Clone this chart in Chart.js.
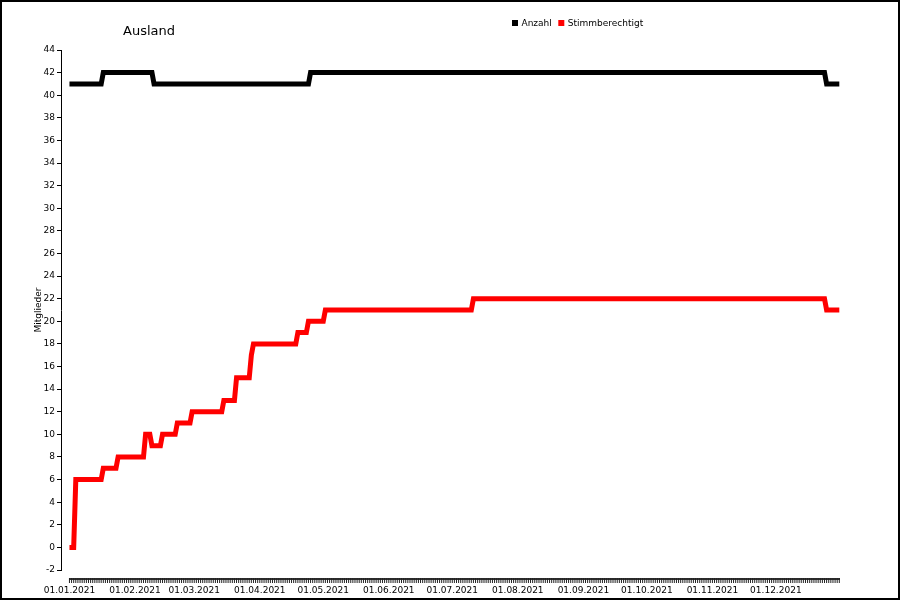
<!DOCTYPE html>
<html>
<head>
<meta charset="utf-8">
<script src="https://cdn.jsdelivr.net/npm/chart.js@4.4.1/dist/chart.umd.min.js"></script>
<style>
  html, body { margin: 0; padding: 0; background: #fff; }
  canvas { display: block; }
</style>
</head>
<body>
<canvas id="c" width="900" height="600"></canvas>
<script>
// ---- data (day index from 01.01.2021) ----
const chartTitle = "Ausland";
const seriesNames = ["Anzahl", "Stimmberechtigt"];
const anzahlDays   = [0, 15, 16, 39, 40, 113, 114, 357, 358, 364];
const anzahlValues = [41, 41, 42, 42, 41, 41, 42, 42, 41, 41];
const stimmDays   = [0, 2, 3, 15, 16, 22, 23, 35, 36, 38, 39, 43, 44, 50, 51, 57, 58, 72, 73, 78, 79, 85, 86, 87, 107, 108, 112, 113, 120, 121, 190, 191, 357, 358, 364];
const stimmValues = [0, 0, 6, 6, 7, 7, 8, 8, 10, 10, 9, 9, 10, 10, 11, 11, 12, 12, 13, 13, 15, 15, 17, 18, 18, 19, 19, 20, 20, 21, 21, 22, 22, 21, 21];
const monthStartDays = [0, 31, 59, 90, 120, 151, 181, 212, 243, 273, 304, 334];
const monthLabels = ["01.01.2021", "01.02.2021", "01.03.2021", "01.04.2021", "01.05.2021", "01.06.2021",
                     "01.07.2021", "01.08.2021", "01.09.2021", "01.10.2021", "01.11.2021", "01.12.2021"];
const yTitle = "Mitglieder";
const lastDay = 364;

Chart.defaults.font.family = "'DejaVu Sans', Verdana, sans-serif";
Chart.defaults.font.size = 9;
Chart.defaults.color = "#000";

const toPts = (xs, ys) => xs.map((d, i) => ({ x: d, y: ys[i] }));

const frameAndDecor = {
  id: 'frameAndDecor',
  beforeDraw(chart) {
    const ctx = chart.ctx;
    ctx.save();
    ctx.fillStyle = '#fff';
    ctx.fillRect(0, 0, chart.width, chart.height);
    ctx.restore();
  },
  afterDraw(chart) {
    const ctx = chart.ctx;
    const xs = chart.scales.x;
    ctx.save();
    // dense daily tick row
    ctx.strokeStyle = '#222';
    const x0 = xs.getPixelForValue(0);
    const x1 = xs.getPixelForValue(lastDay);
    ctx.fillStyle = '#333';
    ctx.fillRect(Math.round(x0), 578, Math.round(x1) - Math.round(x0) + 1, 2);
    ctx.lineWidth = 1;
    ctx.beginPath();
    for (let d = 0; d <= lastDay; d++) {
      const px = xs.getPixelForValue(d);
      ctx.moveTo(px, 578);
      ctx.lineTo(px, 583);
    }
    ctx.stroke();

    // title
    ctx.fillStyle = '#000';
    ctx.font = "13px 'DejaVu Sans', Verdana, sans-serif";
    ctx.textBaseline = 'alphabetic';
    ctx.textAlign = 'left';
    ctx.fillText(chartTitle, 123, 35);

    // legend
    ctx.font = "9px 'DejaVu Sans', Verdana, sans-serif";
    let lx = 512;
    chart.data.datasets.forEach(ds => {
      ctx.fillStyle = ds.borderColor;
      ctx.fillRect(lx, 20, 6, 6);
      lx += 6 + 3.5;
      ctx.fillStyle = '#000';
      ctx.fillText(ds.label, lx, 25.5);
      lx += ctx.measureText(ds.label).width + 6.5;
    });

    // outer frame
    ctx.strokeStyle = '#000';
    ctx.lineWidth = 2;
    ctx.strokeRect(1, 1, 898, 598);
    ctx.restore();
  }
};

new Chart(document.getElementById('c'), {
  type: 'line',
  data: {
    datasets: [
      {
        label: seriesNames[0],
        data: toPts(anzahlDays, anzahlValues),
        borderColor: '#000000',
        backgroundColor: '#000000',
        borderWidth: 5,
        pointRadius: 0,
        tension: 0,
        fill: false
      },
      {
        label: seriesNames[1],
        data: toPts(stimmDays, stimmValues),
        borderColor: '#ff0000',
        backgroundColor: '#ff0000',
        borderWidth: 5,
        pointRadius: 0,
        tension: 0,
        fill: false
      }
    ]
  },
  options: {
    responsive: false,
    animation: false,
    devicePixelRatio: 1,
    layout: { padding: { left: 30, top: 50, right: 48, bottom: 0 } },
    plugins: {
      legend: { display: false },
      title: { display: false },
      tooltip: { enabled: false }
    },
    scales: {
      x: {
        type: 'linear',
        min: -4,
        max: 370,
        afterBuildTicks: s => { s.ticks = monthStartDays.map(v => ({ value: v })); },
        afterFit: s => { s.height = 30; },
        grid: { display: false },
        border: { display: false },
        ticks: {
          autoSkip: false,
          maxRotation: 0,
          minRotation: 0,
          padding: 7,
          color: '#000',
          callback: (v, i) => monthLabels[i]
        }
      },
      y: {
        min: -2,
        max: 44,
        afterFit: s => { s.width = 31; },
        ticks: { stepSize: 2, padding: 2, color: '#000' },
        grid: { drawOnChartArea: false, drawTicks: true, tickLength: 4, color: '#000' },
        border: { display: true, color: '#000', width: 1 },
        title: { display: true, text: yTitle, color: '#000', padding: { top: 3, bottom: 0 }, font: { size: 9 } }
      }
    }
  },
  plugins: [frameAndDecor]
});
</script>
</body>
</html>
